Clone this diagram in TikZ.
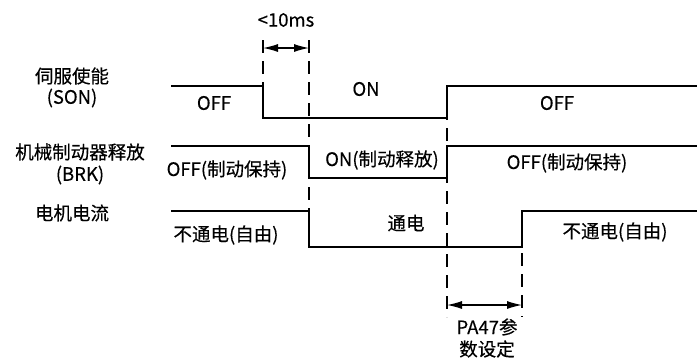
\documentclass[tikz,border=0pt]{standalone}
\usepackage{fontspec}
\setmainfont{Noto Sans CJK SC}[FakeBold=0.35]
\usetikzlibrary{arrows.meta}
\begin{document}
\begin{tikzpicture}[x=1pt,y=-1pt,
  sig/.style={line width=1.8pt,line join=miter},
  guide/.style={line width=1.4pt,dash pattern=on 13pt off 8pt},
  dim/.style={line width=1.2pt,{Latex[length=15pt,width=8pt]}-{Latex[length=15pt,width=8pt]}},
  lbl/.style={font=\fontsize{18.5}{20}\selectfont,inner sep=0pt,anchor=center}]
\useasboundingbox (0,0) rectangle (697,360);

% SON
\coordinate (s0) at (171,86);
\coordinate (s1) at (263,86);
\coordinate (s2) at (263,118);
\coordinate (s3) at (447,118);
\coordinate (s4) at (447,86);
\coordinate (s5) at (697,86);
\draw[sig] (s0) -- (s1) -- (s2) -- (s3) -- (s4) -- (s5);

% BRK
\coordinate (b0) at (171,146);
\coordinate (b1) at (309,146);
\coordinate (b2) at (309,178);
\coordinate (b3) at (447,178);
\coordinate (b4) at (447,146);
\coordinate (b5) at (697,146);
\draw[sig] (b0) -- (b1) -- (b2) -- (b3) -- (b4) -- (b5);

% current
\coordinate (c0) at (171,211);
\coordinate (c1) at (309,211);
\coordinate (c2) at (309,247);
\coordinate (c3) at (522,247);
\coordinate (c4) at (522,211);
\coordinate (c5) at (697,211);
\draw[sig] (c0) -- (c1) -- (c2) -- (c3) -- (c4) -- (c5);

% guides
\coordinate (g1a) at (263,40);
\coordinate (g2a) at (309,40);
\coordinate (g3b) at (447,317);
\coordinate (g4b) at (522,317);
\draw[guide] (g1a) -- (s1);
\draw[guide] (g2a) -- (c2);
\draw[guide] (s4) -- (g3b);
\draw[guide] (c4) -- (g4b);

% dimension arrows
\coordinate (a1) at (263,48);
\coordinate (a2) at (309,48);
\coordinate (a3) at (447,305);
\coordinate (a4) at (522,305);
\draw[dim] (a1) -- (a2);
\draw[dim] (a3) -- (a4);
\node[lbl] (lt) at (286,20) {<10ms};
\node[lbl] (lb1) at (487,327) {PA47参};
\node[lbl] (lb2) at (487,349) {数设定};

% left labels
\node[lbl] (n1) at (72,76) {伺服使能};
\node[lbl] (n1b) at (72,98) {(SON)};
\node[lbl] (n2) at (80,152) {机械制动器释放};
\node[lbl] (n2b) at (80,175) {(BRK)};
\node[lbl] (n3) at (72,213) {电机电流};

% state labels
\node[lbl] (o1) at (214,103) {OFF};
\node[lbl] (o2) at (366,89) {ON};
\node[lbl] (o3) at (557,103) {OFF};
\node[lbl] (o4) at (227,170) {OFF(制动保持)};
\node[lbl] (o5) at (382,160) {ON(制动释放)};
\node[lbl] (o6) at (567,163) {OFF(制动保持)};
\node[lbl] (o7) at (226,235) {不通电(自由)};
\node[lbl] (o8) at (406,223) {通电};
\node[lbl] (o9) at (615,232) {不通电(自由)};
\end{tikzpicture}
\end{document}
